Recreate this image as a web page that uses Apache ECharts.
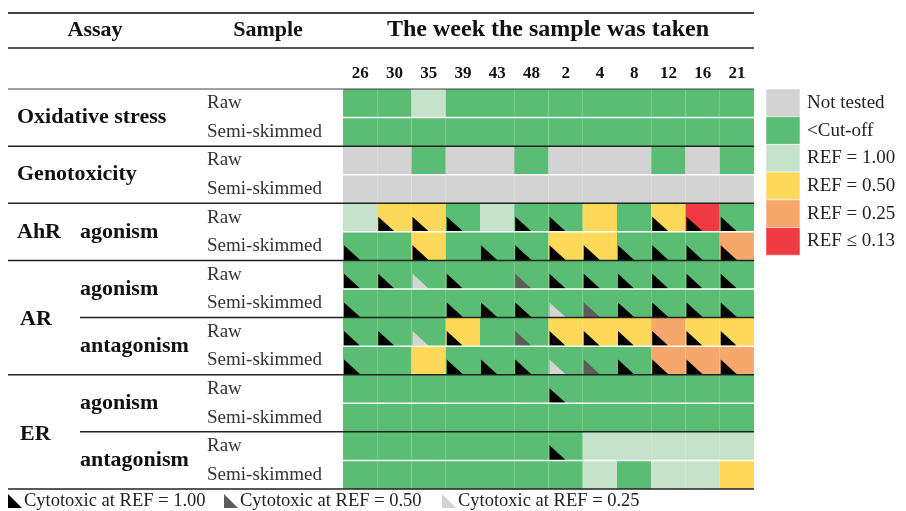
<!DOCTYPE html>
<html>
<head>
<meta charset="utf-8">
<script src="https://cdn.jsdelivr.net/npm/echarts@6/dist/echarts.min.js"></script>
<style>
  html, body { margin: 0; padding: 0; background: #fff; }
  #chart { width: 906px; height: 511px; }
</style>
</head>
<body>
<div id="chart"></div>
<script>
// weeks on the x axis
const weeks = ['26', '30', '35', '39', '43', '48', '2', '4', '8', '12', '16', '21']
const samples = ['Raw', 'Semi-skimmed', 'Raw', 'Semi-skimmed', 'Raw', 'Semi-skimmed', 'Raw', 'Semi-skimmed',
  'Raw', 'Semi-skimmed', 'Raw', 'Semi-skimmed', 'Raw', 'Semi-skimmed']

// result category: 0 not tested, 1 <cut-off, 2 REF=1.00, 3 REF=0.50, 4 REF=0.25, 5 REF<=0.13
const statusNames = ['Not tested', '<Cut-off', 'REF = 1.00', 'REF = 0.50', 'REF = 0.25', 'REF ≤ 0.13']
const statusColors = ['#d3d3d3', '#5bbc74', '#c4e3ca', '#fdd859', '#f6a86c', '#ef3a42']

// cytotoxicity: 0 none, 1 at REF=1.00, 2 at REF=0.50, 3 at REF=0.25
const cytoNames = ['Cytotoxic at REF = 1.00', 'Cytotoxic at REF = 0.50', 'Cytotoxic at REF = 0.25']
const cytoColors = ['#000000', '#5c5c5c', '#d4d4d4']

const oxRaw = [1, 1, 2, 1, 1, 1, 1, 1, 1, 1, 1, 1]
const oxSemi = [1, 1, 1, 1, 1, 1, 1, 1, 1, 1, 1, 1]
const genoRaw = [0, 0, 1, 0, 0, 1, 0, 0, 0, 1, 0, 1]
const genoSemi = [0, 0, 0, 0, 0, 0, 0, 0, 0, 0, 0, 0]
const ahrAgoRaw = [2, 3, 3, 1, 2, 1, 1, 3, 1, 3, 5, 1]
const ahrAgoSemi = [1, 1, 3, 1, 1, 1, 3, 3, 1, 1, 1, 4]
const arAgoRaw = [1, 1, 1, 1, 1, 1, 1, 1, 1, 1, 1, 1]
const arAgoSemi = [1, 1, 1, 1, 1, 1, 1, 1, 1, 1, 1, 1]
const arAntRaw = [1, 1, 1, 3, 1, 1, 3, 3, 3, 4, 3, 3]
const arAntSemi = [1, 1, 3, 1, 1, 1, 1, 1, 1, 4, 4, 4]
const erAgoRaw = [1, 1, 1, 1, 1, 1, 1, 1, 1, 1, 1, 1]
const erAgoSemi = [1, 1, 1, 1, 1, 1, 1, 1, 1, 1, 1, 1]
const erAntRaw = [1, 1, 1, 1, 1, 1, 1, 2, 2, 2, 2, 2]
const erAntSemi = [1, 1, 1, 1, 1, 1, 1, 2, 1, 2, 2, 3]

const cytoOxRaw = [0, 0, 0, 0, 0, 0, 0, 0, 0, 0, 0, 0]
const cytoOxSemi = [0, 0, 0, 0, 0, 0, 0, 0, 0, 0, 0, 0]
const cytoGenoRaw = [0, 0, 0, 0, 0, 0, 0, 0, 0, 0, 0, 0]
const cytoGenoSemi = [0, 0, 0, 0, 0, 0, 0, 0, 0, 0, 0, 0]
const cytoAhrAgoRaw = [0, 1, 1, 1, 0, 1, 1, 0, 0, 1, 1, 1]
const cytoAhrAgoSemi = [1, 0, 1, 0, 1, 1, 1, 1, 1, 1, 1, 1]
const cytoArAgoRaw = [1, 1, 3, 1, 0, 2, 1, 1, 1, 1, 1, 1]
const cytoArAgoSemi = [1, 0, 0, 1, 1, 1, 3, 2, 1, 1, 1, 1]
const cytoArAntRaw = [1, 1, 3, 1, 0, 2, 1, 1, 1, 1, 1, 1]
const cytoArAntSemi = [1, 0, 0, 1, 1, 1, 3, 2, 1, 1, 1, 1]
const cytoErAgoRaw = [0, 0, 0, 0, 0, 0, 1, 0, 0, 0, 0, 0]
const cytoErAgoSemi = [0, 0, 0, 0, 0, 0, 0, 0, 0, 0, 0, 0]
const cytoErAntRaw = [0, 0, 0, 0, 0, 0, 1, 0, 0, 0, 0, 0]
const cytoErAntSemi = [0, 0, 0, 0, 0, 0, 0, 0, 0, 0, 0, 0]

const statusRows = [oxRaw, oxSemi, genoRaw, genoSemi, ahrAgoRaw, ahrAgoSemi, arAgoRaw, arAgoSemi,
  arAntRaw, arAntSemi, erAgoRaw, erAgoSemi, erAntRaw, erAntSemi]
const cytoRows = [cytoOxRaw, cytoOxSemi, cytoGenoRaw, cytoGenoSemi, cytoAhrAgoRaw, cytoAhrAgoSemi,
  cytoArAgoRaw, cytoArAgoSemi, cytoArAntRaw, cytoArAntSemi, cytoErAgoRaw, cytoErAgoSemi,
  cytoErAntRaw, cytoErAntSemi]

const cells = []
statusRows.forEach((row, r) => {
  row.forEach((st, c) => {
    cells.push([c, r, st, cytoRows[r][c]])
  })
})

const FONT = '"Liberation Serif", "DejaVu Serif", serif'
const G_LEFT = 343
const G_RIGHT = 754
const G_TOP = 89
const G_BOTTOM = 489
const rowH = (G_BOTTOM - G_TOP) / samples.length
const rowY = i => G_TOP + i * rowH

function renderCell(params, api) {
  const p = api.coord([api.value(0), api.value(1)])
  const s = api.size([1, 1])
  const x0 = p[0] - s[0] / 2
  const y0 = p[1] - s[1] / 2
  const y1 = y0 + s[1]
  const children = [{
    type: 'rect',
    shape: { x: x0, y: y0, width: s[0], height: s[1] },
    style: { fill: statusColors[api.value(2)] },
  }]
  const cy = api.value(3)
  if (cy > 0) {
    children.push({
      type: 'polygon',
      shape: { points: [[x0 + 1, y1 - s[1] * 0.53], [x0 + 1, y1 - 0.5], [x0 + 1 + s[0] * 0.47, y1 - 0.5]] },
      style: { fill: cytoColors[cy - 1] },
    })
  }
  return { type: 'group', children }
}

const graphics = []
function txt(text, x, y, size, bold, align, color) {
  graphics.push({
    type: 'text', x, y,
    style: {
      text, fontFamily: FONT, fontSize: size, fontWeight: bold ? 'bold' : 'normal',
      fill: color || '#111', align: align || 'left', verticalAlign: 'middle',
    },
  })
}
function hline(x1, x2, y, w, color) {
  graphics.push({
    type: 'line',
    shape: { x1, y1: y, x2, y2: y },
    style: { stroke: color, lineWidth: w },
    z: 10,
  })
}

// header
hline(8, G_RIGHT, 13, 2, '#444')
hline(8, G_RIGHT, 48, 2, '#555')
hline(8, G_RIGHT, G_TOP, 1, '#444')
txt('Assay', 95, 30, 22, true, 'center')
txt('Sample', 268, 30, 22, true, 'center')
txt('The week the sample was taken', 548, 30, 24, true, 'center')

// white separators between raw / semi-skimmed
for (let i = 1; i < samples.length; i += 2) hline(G_LEFT, G_RIGHT, rowY(i), 1.5, '#fff')
// group rules
;[2, 4, 6, 10, 14].forEach(i => hline(8, G_RIGHT, rowY(i), 1.5, '#222'))
;[8, 12].forEach(i => hline(80, G_RIGHT, rowY(i), 1.5, '#222'))

// row group labels
txt('Oxidative stress', 17, rowY(1), 22, true)
txt('Genotoxicity', 17, rowY(3), 22, true)
txt('AhR', 17, rowY(5), 22, true)
txt('agonism', 80, rowY(5), 22, true)
txt('AR', 20, rowY(8) + 2, 22, true)
txt('agonism', 80, rowY(7), 22, true)
txt('antagonism', 80, rowY(9), 22, true)
txt('ER', 20, rowY(12) + 2, 22, true)
txt('agonism', 80, rowY(11), 22, true)
txt('antagonism', 80, rowY(13), 22, true)

// status legend
const legH = 27.7
statusNames.forEach((name, i) => {
  graphics.push({
    type: 'rect',
    shape: { x: 766, y: G_TOP + i * legH, width: 34, height: legH },
    style: { fill: statusColors[i], stroke: '#fff', lineWidth: 0.5 },
  })
  txt(name, 807, G_TOP + i * legH + legH / 2, 19, false, 'left', '#222')
})

// cytotoxic legend
const cytoX = [8, 224, 442]
cytoNames.forEach((name, i) => {
  const x = cytoX[i]
  graphics.push({
    type: 'polygon',
    shape: { points: [[x, 494], [x, 508], [x + 14, 508]] },
    style: { fill: cytoColors[i] },
  })
  txt(name, x + 16, 501, 18.5, false, 'left', '#222')
})

const myChart = echarts.init(document.getElementById('chart'))
myChart.setOption({
  animation: false,
  grid: { left: G_LEFT, right: 906 - G_RIGHT, top: G_TOP, bottom: 511 - G_BOTTOM },
  xAxis: {
    type: 'category',
    position: 'top',
    data: weeks,
    axisLine: { show: false },
    axisTick: { show: false },
    splitLine: { show: false },
    axisLabel: { fontFamily: FONT, fontWeight: 'bold', fontSize: 17, color: '#111', margin: 7, interval: 0 },
  },
  yAxis: {
    type: 'category',
    inverse: true,
    data: samples,
    axisLine: { show: false },
    axisTick: { show: false },
    splitLine: { show: false },
    axisLabel: { fontFamily: FONT, fontSize: 19, color: '#333', align: 'left', margin: 136, interval: 0 },
  },
  series: [{
    type: 'custom',
    renderItem: renderCell,
    encode: { x: 0, y: 1 },
    data: cells,
  }],
  graphic: graphics,
})
</script>
</body>
</html>
